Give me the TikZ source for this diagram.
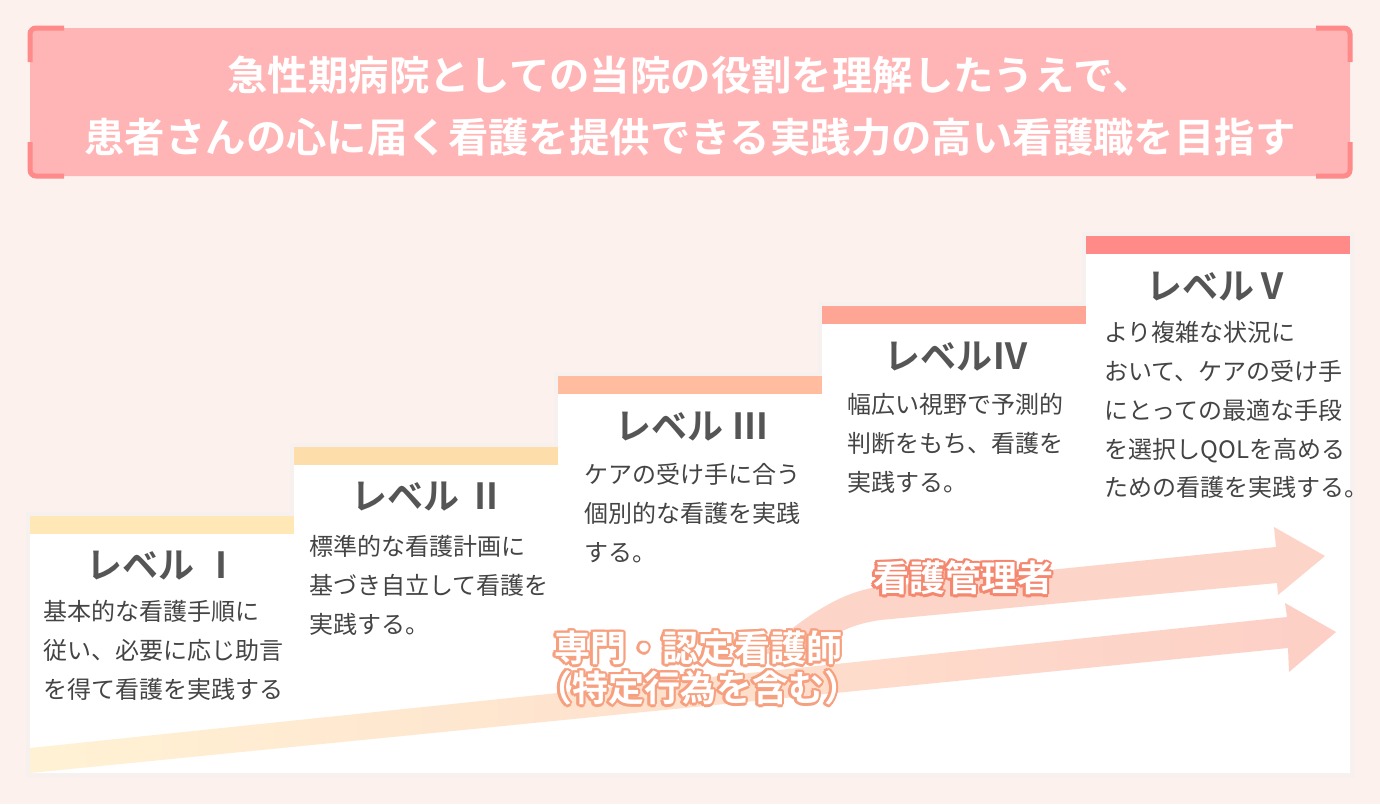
\documentclass[tikz,border=0pt]{standalone}
\usepackage{fontspec}
\setmainfont{Noto Sans CJK JP}[BoldFont={* Bold}]
\usetikzlibrary{calc}
\definecolor{bg}{HTML}{FDF1EE}
\definecolor{banner}{HTML}{FFB5B5}
\definecolor{bracket}{HTML}{FF8A8A}
\definecolor{cI}{HTML}{FFE8B5}
\definecolor{cII}{HTML}{FDDDAA}
\definecolor{cIII}{HTML}{FFBC9E}
\definecolor{cIV}{HTML}{FFA596}
\definecolor{cV}{HTML}{FF8A87}
\definecolor{ttl}{HTML}{555555}
\definecolor{body}{HTML}{444444}
\definecolor{arrL}{HTML}{FFF2D4}
\definecolor{arrR}{HTML}{FDCFC6}
\definecolor{olA}{HTML}{F5876F}
\definecolor{olB}{HTML}{F7A07F}
\newcommand{\outlined}[4]{% pos, color, text, name
  \foreach \dx/\dy in {-2.5/0,2.5/0,0/-2.5,0/2.5,-1.8/-1.8,1.8/1.8,-1.8/1.8,1.8/-1.8,-1.2/-2.2,1.2/2.2,-2.2/1.2,2.2/-1.2}
    \node[lbl,text=#2] at ($#1+(\dx,\dy)$) {#3};
  \node[lbl,text=white] (#4) at #1 {#3};}
\begin{document}
\begin{tikzpicture}[x=0.5pt,y=-0.5pt,
  ttlstyle/.style={font=\fontsize{18}{20}\selectfont\bfseries,text=ttl},
  bodystyle/.style={font=\fontsize{12}{19.4}\selectfont,text=body,align=left,anchor=north west,inner sep=0},
  lbl/.style={font=\fontsize{18}{20}\selectfont\bfseries,inner sep=0},
  bar/.style={inner sep=0,minimum width=132pt,minimum height=9pt,anchor=north west}]
\fill[bg] (0,0) rectangle (1380,804);
\useasboundingbox (0,0) rectangle (1380,804);
% banner
\fill[banner,rounded corners=3pt] (30,28) rectangle (1350,176);
\foreach \x/\y/\sx/\sy in {30/28/1/1,1350/28/-1/1,30/176/1/-1,1350/176/-1/-1}
  \draw[bracket,line width=2.5pt,rounded corners=3pt] (\x+\sx*34,\y) -- (\x,\y) -- (\x,\y+\sy*34);
\node[font=\fontsize{20.2}{31}\selectfont\bfseries,text=white,align=center] (head) at (690,106)
  {急性期病院としての当院の役割を理解したうえで、\\患者さんの心に届く看護を提供できる実践力の高い看護職を目指す};
% staircase white area with shadow
\fill[black!6,opacity=0.5] (26,512) -- (290,512) -- (290,443) -- (554,443) -- (554,372) -- (818,372) -- (818,302) -- (1082,302) -- (1082,232) -- (1354,232) -- (1354,777) -- (26,777) -- cycle;
\fill[white] (30,516) -- (294,516) -- (294,447) -- (558,447) -- (558,376) -- (822,376) -- (822,306) -- (1086,306) -- (1086,236) -- (1350,236) -- (1350,773) -- (30,773) -- cycle;
\node[bar,fill=cI] (barI) at (30,516) {};
\node[bar,fill=cII] (barII) at (294,447) {};
\node[bar,fill=cIII] (barIII) at (558,376) {};
\node[bar,fill=cIV] (barIV) at (822,306) {};
\node[bar,fill=cV] (barV) at (1086,236) {};
% arrows
\shade[left color=arrL,right color=arrR,shading angle=90]
  (30,748) -- (1287,617) -- (1285,603) -- (1336,632) -- (1289,672) -- (1288,648) -- (30,773) -- cycle;
\fill[arrR!85!arrL]
  (760,655) .. controls (800,620) and (835,595) .. (872,588) -- (1276,547) -- (1274,527) -- (1325,556) -- (1278,595) -- (1277,583) -- (880,620) .. controls (855,624) and (840,630) .. (820,645) -- cycle;
% texts
\node[ttlstyle] (tI) at (163,566) {レベル Ⅰ};
\node[bodystyle] (bI) at (43,600) {基本的な看護手順に\\従い、必要に応じ助言\\を得て看護を実践する};
\node[ttlstyle] (tII) at (428,497) {レベル Ⅱ};
\node[bodystyle] (bII) at (309,535) {標準的な看護計画に\\基づき自立して看護を\\実践する。};
\node[ttlstyle] (tIII) at (692,427) {レベル Ⅲ};
\node[bodystyle] (bIII) at (584,463) {ケアの受け手に合う\\個別的な看護を実践\\する。};
\node[ttlstyle] (tIV) at (956,357) {レベルⅣ};
\node[bodystyle] (bIV) at (847,393) {幅広い視野で予測的\\判断をもち、看護を\\実践する。};
\node[ttlstyle] (tV) at (1218,287) {レベルⅤ};
\node[bodystyle] (bV) at (1104,321) {より複雑な状況に\\おいて、ケアの受け手\\にとっての最適な手段\\を選択しQOLを高める\\ための看護を実践する。};
% arrow labels
\outlined{(963,578)}{olA}{看護管理者}{mgr}
\outlined{(698,648)}{olB}{専門・認定看護師}{spec}
\outlined{(698,688)}{olB}{（特定行為を含む）}{spec2}
\end{tikzpicture}
\end{document}
